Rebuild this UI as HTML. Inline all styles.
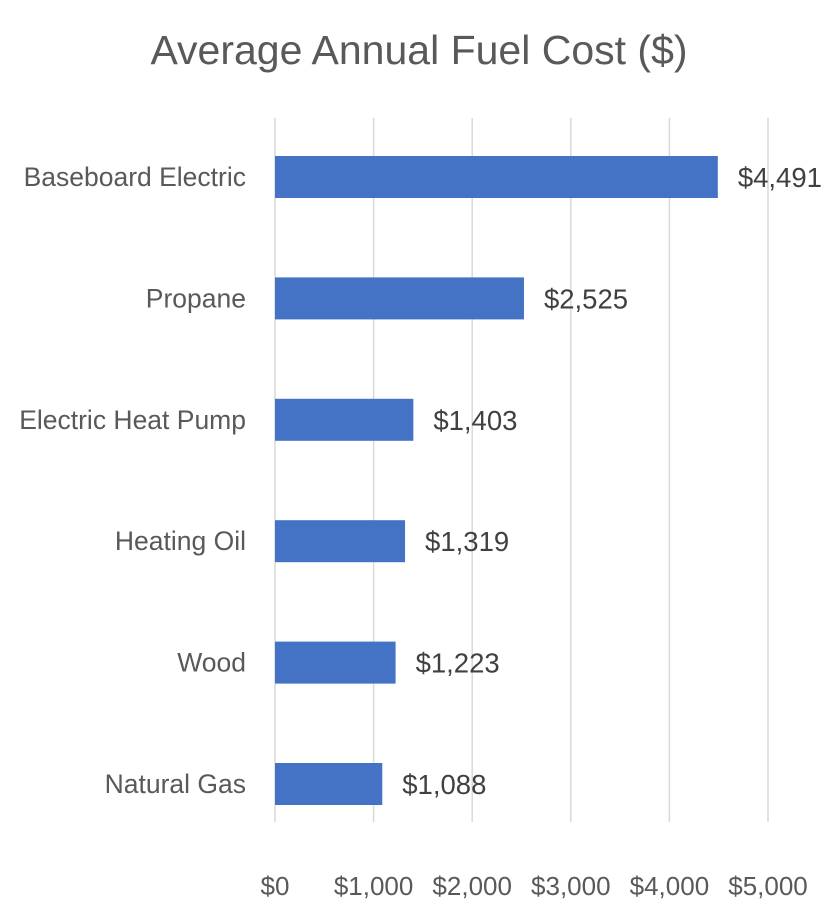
<!DOCTYPE html>
<html><head><meta charset="utf-8"><style>
body{margin:0;background:#fff;}
svg{display:block;font-family:"Liberation Sans",sans-serif;}
</style></head><body>
<svg id="chart" width="839" height="915">
<text x="419" y="64" text-anchor="middle" font-size="41" fill="#595959">Average Annual Fuel Cost ($)</text>
<g id="grid"></g><g id="bars"></g><g id="labels"></g>
</svg>
<script>
const categories=["Baseboard Electric","Propane","Electric Heat Pump","Heating Oil","Wood","Natural Gas"];
const values=[4491,2525,1403,1319,1223,1088];
const ticks=[0,1000,2000,3000,4000,5000];
const tickLabels=["$0","$1,000","$2,000","$3,000","$4,000","$5,000"];
const valueLabels=["$4,491","$2,525","$1,403","$1,319","$1,223","$1,088"];
const NS="http://www.w3.org/2000/svg";
const x0=275,x1=768,yTop=116.3,band=121.4,gridTop=118,gridBottom=822;
const xs=v=>x0+(v/5000)*(x1-x0);
const yc=i=>yTop+band*(i+0.5);
function mk(t,a,p){const e=document.createElementNS(NS,t);for(const k in a)e.setAttribute(k,a[k]);p.appendChild(e);return e;}
const g=document.getElementById('grid'),b=document.getElementById('bars'),l=document.getElementById('labels');
ticks.forEach((t,i)=>{
 const ln=mk('line',{x1:xs(t),x2:xs(t),y1:gridTop,y2:gridBottom,stroke:'#d9d9d9','stroke-width':1.5},g);
 
 
 const tx=mk('text',{x:xs(t),y:895,'text-anchor':'middle','font-size':26,fill:'#595959'},g);
 tx.textContent=tickLabels[i];
 
 
});
categories.forEach((c,i)=>{
 const y=yc(i);
 const r=mk('rect',{x:x0,y:y-21,width:xs(values[i])-x0,height:42,fill:'#4472c4'},b);
 
 
 const cl=mk('text',{x:246,y:y+9,'text-anchor':'end','font-size':26.5,fill:'#595959'},l);
 cl.textContent=c;
 
 
 const vl=mk('text',{x:xs(values[i])+20,y:y+10,'font-size':27.5,fill:'#404040'},l);
 vl.textContent=valueLabels[i];
 
 
});
</script>
</body></html>
